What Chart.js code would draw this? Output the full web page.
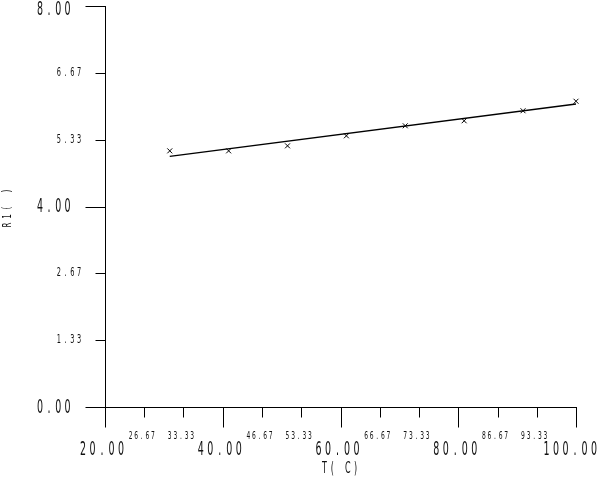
<!DOCTYPE html>
<html>
<head>
<meta charset="utf-8">
<script src="https://cdn.jsdelivr.net/npm/chart.js@4"></script>
<style>
  body { margin: 0; background: #fff; }
</style>
</head>
<body>
<canvas id="plot" width="599" height="479"></canvas>
<script>
// measured points (T in C, R1)
const tempC = [31, 41, 51, 61, 71, 81, 91, 100];
const r1 = [5.11, 5.11, 5.21, 5.41, 5.61, 5.71, 5.91, 6.10];

// fitted straight line, just the two ends
const fitT = [31, 100];
const fitR = [5.00, 6.045];

// tick values
const xMajor = [20, 40, 60, 80, 100];
const xMinor = [26.67, 33.33, 46.67, 53.33, 66.67, 73.33, 86.67, 93.33];
const yMajor = [0, 4, 8];
const yMinor = [1.33, 2.67, 5.33, 6.67];

const xTitle = "T( C)";
const yTitle = "R1( )";

const FONT = '"DejaVu Sans", sans-serif';

// draws a string one char at a time on a fixed pitch, squeezed sideways
function spaced(ctx, str, x, y, pitch, size, sx, align) {
  const span = pitch * (str.length - 1);
  let start = x;
  if (align === "center") start = x - span / 2;
  if (align === "right") start = x - span;
  ctx.font = size + "px " + FONT;
  ctx.textAlign = "center";
  ctx.textBaseline = "middle";
  for (let i = 0; i < str.length; i++) {
    ctx.save();
    ctx.translate(start + i * pitch, y);
    ctx.scale(sx, 1);
    ctx.fillText(str[i], 0, 0);
    ctx.restore();
  }
}

const axesPlugin = {
  id: "oldAxes",
  afterDraw(chart) {
    const ctx = chart.ctx;
    const xs = chart.scales.x, ys = chart.scales.y;
    const area = chart.chartArea;
    const bottom = Math.round(area.bottom) + 0.5;
    const left = Math.round(area.left) + 0.5;
    ctx.save();
    ctx.strokeStyle = "#000";
    ctx.fillStyle = "#111";
    ctx.lineWidth = 1;

    // x ticks
    ctx.beginPath();
    xMajor.forEach(v => {
      const px = Math.round(xs.getPixelForValue(v)) + 0.5;
      ctx.moveTo(px, bottom); ctx.lineTo(px, bottom + 20);
    });
    xMinor.forEach(v => {
      const px = Math.round(xs.getPixelForValue(v)) + 0.5;
      ctx.moveTo(px, bottom); ctx.lineTo(px, bottom + 10);
    });
    // y ticks
    yMajor.forEach(v => {
      const py = Math.round(ys.getPixelForValue(v)) + 0.5;
      ctx.moveTo(left - 20, py); ctx.lineTo(left, py);
    });
    yMinor.forEach(v => {
      const py = Math.round(ys.getPixelForValue(v)) + 0.5;
      ctx.moveTo(left - 10, py); ctx.lineTo(left, py);
    });
    ctx.stroke();

    // x labels
    xMajor.forEach(v => {
      const s = v.toFixed(2);
      let cx = xs.getPixelForValue(v) - 3;
      const half = 9.5 * (s.length - 1) / 2 + 3;
      if (cx + half > chart.width - 2) cx = chart.width - 2 - half;
      spaced(ctx, s, cx, 450, 9.5, 19, 0.5, "center");
    });
    xMinor.forEach(v => {
      spaced(ctx, v.toFixed(2), xs.getPixelForValue(v) - 2.5, 436, 5.6, 10, 0.6, "center");
    });

    // y labels
    yMajor.forEach(v => {
      const cy = Math.max(ys.getPixelForValue(v) + 1, 10);
      spaced(ctx, v.toFixed(2), 67.5, cy, 9.2, 19, 0.5, "right");
    });
    yMinor.forEach(v => {
      spaced(ctx, v.toFixed(2), 79, ys.getPixelForValue(v), 6.7, 12, 0.55, "right");
    });

    // axis titles
    spaced(ctx, xTitle, 340, 469, 7.8, 16, 0.5, "center");
    ctx.save();
    ctx.translate(8, 208);
    ctx.rotate(-Math.PI / 2);
    spaced(ctx, yTitle, 0, 0, 8.5, 13, 0.55, "center");
    ctx.restore();

    ctx.restore();
  }
};

new Chart(document.getElementById("plot"), {
  type: "scatter",
  data: {
    datasets: [
      {
        label: "R1",
        data: tempC.map((t, i) => ({ x: t, y: r1[i] })),
        showLine: false,
        clip: false,
        pointStyle: "crossRot",
        pointRadius: 3.5,
        borderColor: "#000",
        borderWidth: 1
      },
      {
        label: "fit",
        data: fitT.map((t, i) => ({ x: t, y: fitR[i] })),
        showLine: true,
        clip: false,
        pointRadius: 0,
        borderColor: "#000",
        borderWidth: 1.3
      }
    ]
  },
  options: {
    responsive: false,
    animation: false,
    layout: { padding: { top: 6, right: 23, left: 0, bottom: 0 } },
    plugins: {
      legend: { display: false },
      tooltip: { enabled: false }
    },
    scales: {
      x: {
        type: "linear",
        min: 20,
        max: 100,
        ticks: { display: false },
        grid: { display: false },
        border: { display: true, color: "#000", width: 1 },
        afterFit(scale) { scale.height = 72; }
      },
      y: {
        type: "linear",
        min: 0,
        max: 8,
        ticks: { display: false },
        grid: { display: false },
        border: { display: true, color: "#000", width: 1 },
        afterFit(scale) { scale.width = 105; }
      }
    }
  },
  plugins: [axesPlugin]
});
</script>
</body>
</html>
